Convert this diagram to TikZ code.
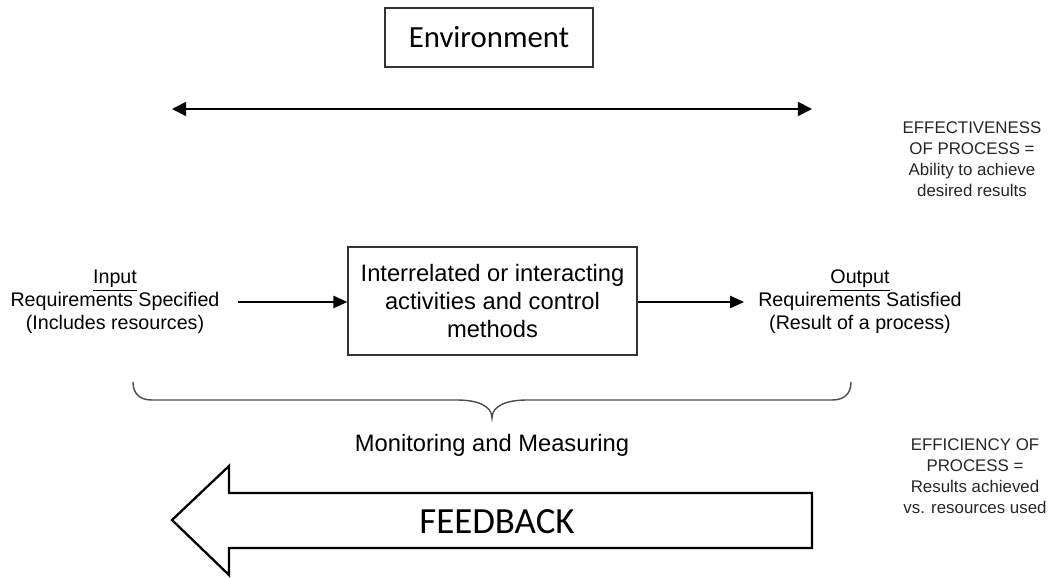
\documentclass[tikz,border=0pt]{standalone}
\usepackage{fontspec}
\setmainfont{Liberation Sans}
\newfontfamily\calibri{Carlito}
\usepackage{tikz}
\usetikzlibrary{arrows.meta,positioning,calc}

% underline sitting close to the baseline
\newcommand{\undertext}[1]{\leavevmode\vtop{\hbox{#1}\kern0.9pt\hrule height0.5pt}}

\begin{document}
\begin{tikzpicture}[x=0.02cm, y=-0.02cm,
        box/.style={draw=black!80, line width=0.8pt, inner sep=0pt, align=center},
        flow/.style={-{Triangle[length=8pt,width=7pt]}, line width=1pt},
        label/.style={align=center, font=\fontsize{11.2}{13}\selectfont},
        note/.style={align=center, text=black!85, font=\fontsize{9.6}{12}\selectfont}]
        \useasboundingbox (0,0) rectangle (1055,578);

        % Environment box and its range
        \node[box, minimum width=4.16cm, minimum height=1.18cm, font=\calibri\fontsize{17.5}{20}\selectfont] (env) at (489,37.5) {Environment};
        \coordinate (envL) at (172,109);
        \coordinate (envR) at (812,109);
        \draw[{Triangle[length=8pt,width=8pt]}-{Triangle[length=8pt,width=8pt]}, line width=1pt] (envL) -- (envR);

        % Effectiveness
        \node[note] (effect) at (972,159) {EFFECTIVENESS\\OF PROCESS =\\Ability to achieve\\desired results};

        % Process box
        \node[box, minimum width=5.78cm, minimum height=2.16cm, font=\fontsize{13.5}{16}\selectfont] (proc) at (492.5,301) {Interrelated or interacting\\activities and control\\methods};

        % Input and output
        \node[label] (in) at (115,302) {\undertext{Input}\\Requirements Specified\\(Includes resources)};
        \node[label] (out) at (860,302) {\undertext{Output}\\Requirements Satisfied\\(Result of a process)};
        \draw[flow] ([xshift=0.25cm]in.east) -- (proc.west |- in.east);
        \draw[flow] (proc.east |- out.west) -- ([xshift=-0.16cm]out.west);

        % Brace under the process
        \coordinate (braceL) at (133,382);
        \coordinate (braceR) at (851,382);
        \coordinate (braceTip) at (492,418);
        \draw[black!70, line width=0.8pt] (braceL) .. controls (133,394) and (140,400) .. (152,400) -- (457,400)
            .. controls (478,400) and (492,406) .. (braceTip)
            .. controls (492,406) and (506,400) .. (527,400) -- (832,400)
            .. controls (844,400) and (851,394) .. (braceR);
        \node[font=\fontsize{13.5}{16}\selectfont] (monitor) at (492,445) {Monitoring and Measuring};

        % Efficiency
        \node[note] (effic) at (975,476) {EFFICIENCY OF\\PROCESS =\\Results achieved\\vs. resources used};

        % Feedback arrow
        \draw[line width=1.3pt, line join=miter] (812,493) -- (229,493) -- (229,466) -- (172,520) -- (229,575) -- (229,548) -- (812,548) -- cycle;
        \node[font=\calibri\fontsize{21}{24}\selectfont] (feedback) at (497,522) {FEEDBACK};
    \end{tikzpicture}
\end{document}
